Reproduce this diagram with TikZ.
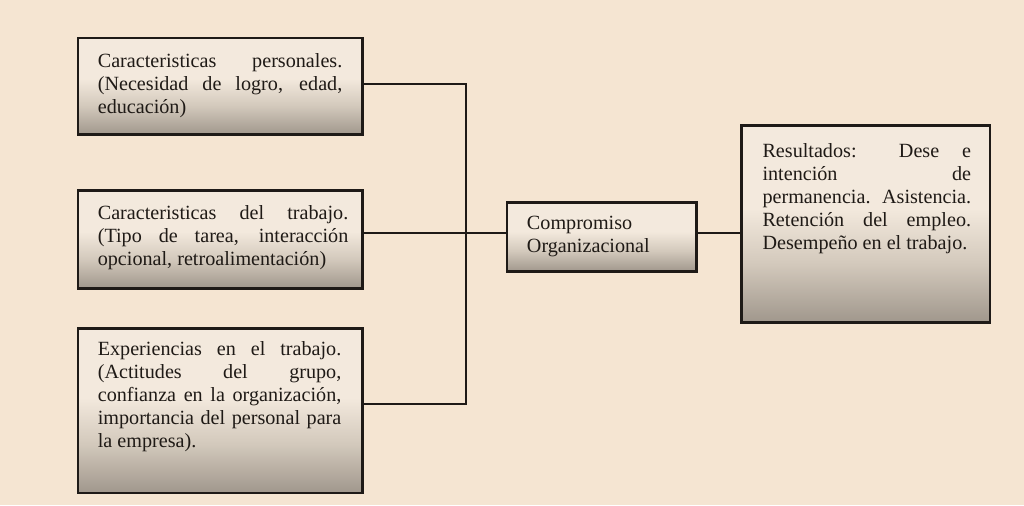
\documentclass[tikz,border=0pt]{standalone}
\usepackage{fontspec}
\setmainfont{Liberation Serif}
\definecolor{bg}{HTML}{F5E5D2}
\definecolor{edge}{HTML}{1E1A17}
\definecolor{ink}{HTML}{1F1A16}
\definecolor{shT}{HTML}{F3E9DD}
\definecolor{shM}{HTML}{D3C9BC}
\definecolor{shB}{HTML}{A0978C}
\pgfdeclareverticalshading{boxshade}{100bp}{color(0bp)=(shB); color(25bp)=(shB); color(40bp)=(shM); color(54bp)=(shT); color(75bp)=(shT); color(100bp)=(shT)}
\newcommand\bxt[6]{\parbox[c][#2][t]{#1}{\vspace*{#3}\leftskip=#4\rightskip=#5\relax\parindent=0pt\emergencystretch=20pt #6}}
\tikzset{
  box/.style={draw=edge, line width=2.6pt, shade, shading=boxshade, anchor=north west,
    inner sep=0pt, outer sep=0pt, font=\fontsize{20.2}{23}\selectfont, text=ink},
  conn/.style={draw=edge, line width=2.2pt, line join=miter}
}
\begin{document}
\begin{tikzpicture}[x=1pt,y=-1pt]
\path[fill=bg] (-1,-1) rectangle (1025,505);
\useasboundingbox (0,0) rectangle (1024,504);
\node[box] (b1) at (77,37) {\bxt{285pt}{97pt}{16pt}{20pt}{20pt}{Caracteristicas personales.\linebreak (Necesidad de logro, edad,\linebreak educación)}};
\node[box] (b2) at (77,190) {\bxt{285pt}{98pt}{15pt}{20pt}{14pt}{Caracteristicas del trabajo.\linebreak (Tipo de tarea, interacción\linebreak opcional, retroalimentación)}};
\node[box] (b3) at (77,328) {\bxt{285pt}{165pt}{13pt}{20pt}{21pt}{Experiencias en el trabajo.\linebreak (Actitudes del grupo,\linebreak confianza en la organización,\linebreak importancia del personal para\linebreak la empresa).}};
\node[box] (c) at (507,202) {\bxt{190pt}{69pt}{14pt}{20pt}{0pt}{Compromiso\\Organizacional}};
\node[box] (r) at (742,125) {\bxt{249pt}{197pt}{18pt}{21pt}{19pt}{Resultados: Dese e\linebreak intención de\linebreak permanencia. Asistencia.\linebreak Retención del empleo.\linebreak Desempeño en el trabajo.}};
\coordinate (jt) at (466,83);
\coordinate (jm) at (466,232.5);
\coordinate (jb) at (466,404);
\draw[conn] (b1.east |- jt) -- (jt) -- (jb) -- (b3.east |- jb);
\draw[conn] (b2.east |- jm) -- (jm) -- (c.west |- jm);
\draw[conn] (c.east |- jm) -- (r.west |- jm);
\end{tikzpicture}
\end{document}
